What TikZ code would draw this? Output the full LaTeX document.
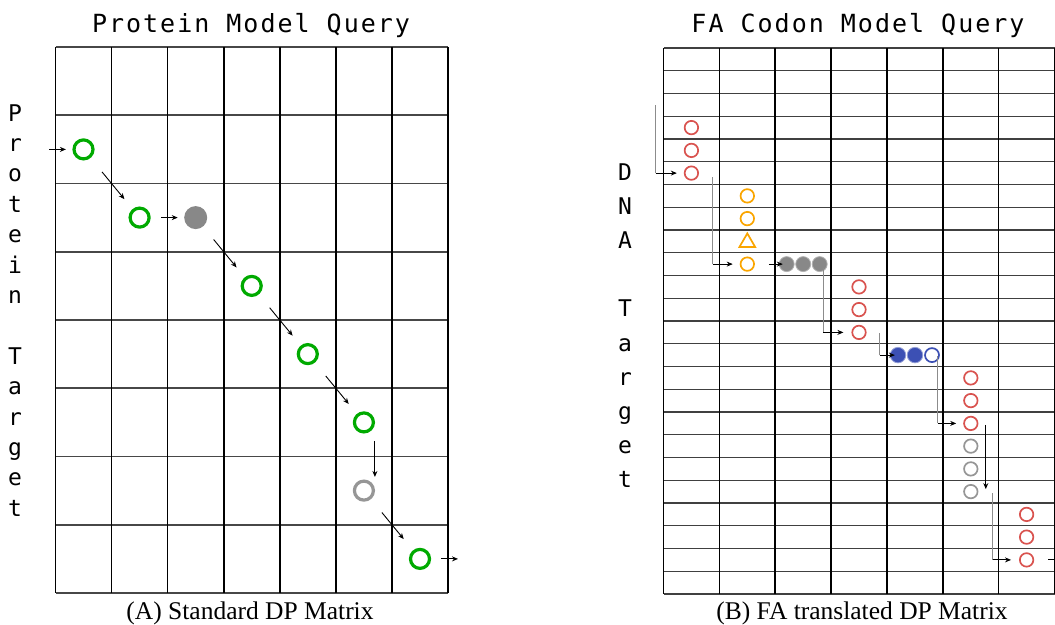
\documentclass[tikz,border=0pt]{standalone}
\usepackage{fontspec}
\setmainfont{Liberation Serif}
\newfontfamily\titlemono[LetterSpace=8]{DejaVu Sans Mono}
\newfontfamily\labelmono{DejaVu Sans Mono}
\usetikzlibrary{calc,arrows.meta,shapes.geometric}

\definecolor{pgreen}{RGB}{0,170,0}
\definecolor{dotgray}{RGB}{136,136,136}
\definecolor{ringgray}{RGB}{150,150,150}
\definecolor{cred}{RGB}{217,83,79}
\definecolor{corange}{RGB}{250,165,0}
\definecolor{cblue}{RGB}{60,80,180}

\begin{document}
\begin{tikzpicture}[x=1pt,y=-1pt,
  vgrid/.style={line width=1.6pt,draw=black},
  hgrid/.style={line width=1.6pt,draw=black!72},
  rvgrid/.style={line width=1.4pt,draw=black},
  rhgrid/.style={line width=1.4pt,draw=black!75},
  gring/.style={circle,draw=pgreen,line width=3.2pt,minimum size=19pt,inner sep=0pt},
  gdot/.style={circle,fill=dotgray,minimum size=23pt,inner sep=0pt},
  grayring/.style={circle,draw=ringgray,line width=3.2pt,minimum size=19pt,inner sep=0pt},
  rring/.style={circle,draw=cred,line width=1.7pt,minimum size=13.5pt,inner sep=0pt},
  oring/.style={circle,draw=corange,line width=1.7pt,minimum size=13.5pt,inner sep=0pt},
  otri/.style={regular polygon,regular polygon sides=3,draw=corange,line width=1.7pt,minimum size=18pt,inner sep=0pt},
  sring/.style={circle,draw=ringgray,line width=1.7pt,minimum size=13.5pt,inner sep=0pt},
  kdot/.style={circle,fill=dotgray,draw=black!30,line width=0.8pt,minimum size=15pt,inner sep=0pt},
  bdot/.style={circle,fill=cblue,draw=cblue!55!white,line width=0.8pt,minimum size=15.5pt,inner sep=0pt},
  bring/.style={circle,draw=cblue,line width=1.7pt,minimum size=14pt,inner sep=0pt},
  arr/.style={-{Stealth[length=6pt,width=5pt]},line width=0.9pt,draw=black},
  vline/.style={line width=1pt,draw=black!45},
  ttl/.style={font=\titlemono\fontsize{25pt}{28pt}\selectfont,anchor=base,inner sep=0pt},
  vlab/.style={font=\labelmono\fontsize{23pt}{26pt}\selectfont,anchor=base,inner sep=0pt},
  caption/.style={font=\fontsize{25.5pt}{28pt}\selectfont,anchor=base,inner sep=0pt}
]
\useasboundingbox (0,0) rectangle (1055,624);

% ---------- (A) standard DP matrix ----------
\foreach \j in {0,...,8}
  \draw[hgrid] (55.5,{47+68.25*\j}) -- (448,{47+68.25*\j});
\foreach \i in {0,...,7}
  \draw[vgrid] ({55.5+56.07*\i},47) -- ({55.5+56.07*\i},593);

\node[ttl] (ta) at (251,32) {Protein Model Query};

\foreach \c [count=\k from 0] in {P,r,o,t,e,i,n, ,T,a,r,g,e,t}
  \node[vlab] (la\k) at (15,{121+30.4*\k}) {\c};

\node[gring]    (p1) at (83.5,149.4) {};
\node[gring]    (p2) at (139.6,217.6) {};
\node[gdot]     (g1) at (195.7,217.6) {};
\node[gring]    (p3) at (251.7,285.9) {};
\node[gring]    (p4) at (307.8,354.1) {};
\node[gring]    (p5) at (363.9,422.4) {};
\node[grayring] (q1) at (363.9,490.6) {};
\node[gring]    (p6) at (420,558.9) {};

\coordinate (ain)  at (49,149.4);
\coordinate (aout) at (458,558.9);

\draw[arr,shorten >=6.5pt] (ain) -- (p1);
\draw[arr] ($(p1)!0.33!(p2)$) -- ($(p1)!0.73!(p2)$);
\draw[arr] ($(p2)!0.39!(g1)$) -- ($(p2)!0.68!(g1)$);
\draw[arr] ($(g1)!0.32!(p3)$) -- ($(g1)!0.73!(p3)$);
\draw[arr] ($(p3)!0.32!(p4)$) -- ($(p3)!0.73!(p4)$);
\draw[arr] ($(p4)!0.32!(p5)$) -- ($(p4)!0.73!(p5)$);
\draw[arr] ($(p5)!0.27!(q1)+(11,0)$) -- ($(p5)!0.8!(q1)+(11,0)$);
\draw[arr] ($(q1)!0.32!(p6)$) -- ($(q1)!0.71!(p6)$);
\draw[arr,shorten <=10pt] (p6) -- (aout);

\node[caption] (ca) at (250,619) {(A) Standard DP Matrix};

% ---------- (B) FA translated DP matrix ----------
\foreach \j in {0,...,24}
  \draw[rhgrid] (663.5,{48+22.75*\j}) -- (1054.5,{48+22.75*\j});
\foreach \i in {0,...,7}
  \draw[rvgrid] ({663.5+55.86*\i},48) -- ({663.5+55.86*\i},594);
\draw[line width=2.4pt] (775.2,48) -- (775.2,594);

\node[ttl] (tb) at (858,32) {FA Codon Model Query};

\foreach \c [count=\k from 0] in {D,N,A, ,T,a,r,g,e,t}
  \node[vlab] (lb\k) at (625,{180+34.2*\k}) {\c};

% codon column 1
\node[rring] (a1) at (691.4,127.6) {};
\node[rring] (a2) at (691.4,150.4) {};
\node[rring] (a3) at (691.4,173.1) {};
% codon column 2
\node[oring] (o1) at (747.3,195.9) {};
\node[oring] (o2) at (747.3,218.6) {};
\node[otri]  (o3) at (747.3,242.4) {};
\node[oring] (o4) at (747.3,264.1) {};
% column 3
\node[kdot] (k1) at (786.7,264.1) {};
\node[kdot] (k2) at (803.2,264.1) {};
\node[kdot] (k3) at (819.7,264.1) {};
% column 4
\node[rring] (b1) at (859,286.9) {};
\node[rring] (b2) at (859,309.6) {};
\node[rring] (b3) at (859,332.4) {};
% column 5
\node[bdot]  (u1) at (898,355.1) {};
\node[bdot]  (u2) at (915,355.1) {};
\node[bring] (u3) at (932,355.1) {};
% column 6
\node[rring] (c1) at (970.8,377.9) {};
\node[rring] (c2) at (970.8,400.6) {};
\node[rring] (c3) at (970.8,423.4) {};
\node[sring] (d1) at (970.8,446.1) {};
\node[sring] (d2) at (970.8,468.9) {};
\node[sring] (d3) at (970.8,491.6) {};
% column 7
\node[rring] (f1) at (1026.6,514.4) {};
\node[rring] (f2) at (1026.6,537.1) {};
\node[rring] (f3) at (1026.6,559.9) {};

% path connectors
\coordinate (e0) at (655.5,105);
\coordinate (e1) at (712.5,177);
\coordinate (e2) at (823,268);
\coordinate (e3) at (879.5,333);
\coordinate (e4) at (937.5,356);
\coordinate (e5) at (992.5,493);
\coordinate (bout) at (1055,559.9);

\draw[vline] (e0) -- (e0 |- a3);
\draw[arr,shorten >=7pt] (e0 |- a3) -- (a3);
\draw[vline] (e1) -- (e1 |- o4);
\draw[arr,shorten >=7pt] (e1 |- o4) -- (o4);
\draw[arr,shorten <=14pt,shorten >=-4pt] (o4) -- (k1);
\draw[vline] (e2) -- (e2 |- b3);
\draw[arr,shorten >=8pt] (e2 |- b3) -- (b3);
\draw[vline] (e3) -- (e3 |- u1);
\draw[arr,shorten >=-5pt] (e3 |- u1) -- (u1);
\draw[vline] (e4) -- (e4 |- c3);
\draw[arr,shorten >=7pt] (e4 |- c3) -- (c3);
\draw[arr] ($(c3)+(15,1.5)$) -- ($(d3)+(15,-2.5)$);
\draw[vline] (e5) -- (e5 |- f3);
\draw[arr,shorten >=8pt] (e5 |- f3) -- (f3);
\draw[line width=0.9pt,shorten <=14pt] (f3) -- (bout);

\node[caption] (cb) at (862,619) {(B) FA translated DP Matrix};
\end{tikzpicture}
\end{document}
